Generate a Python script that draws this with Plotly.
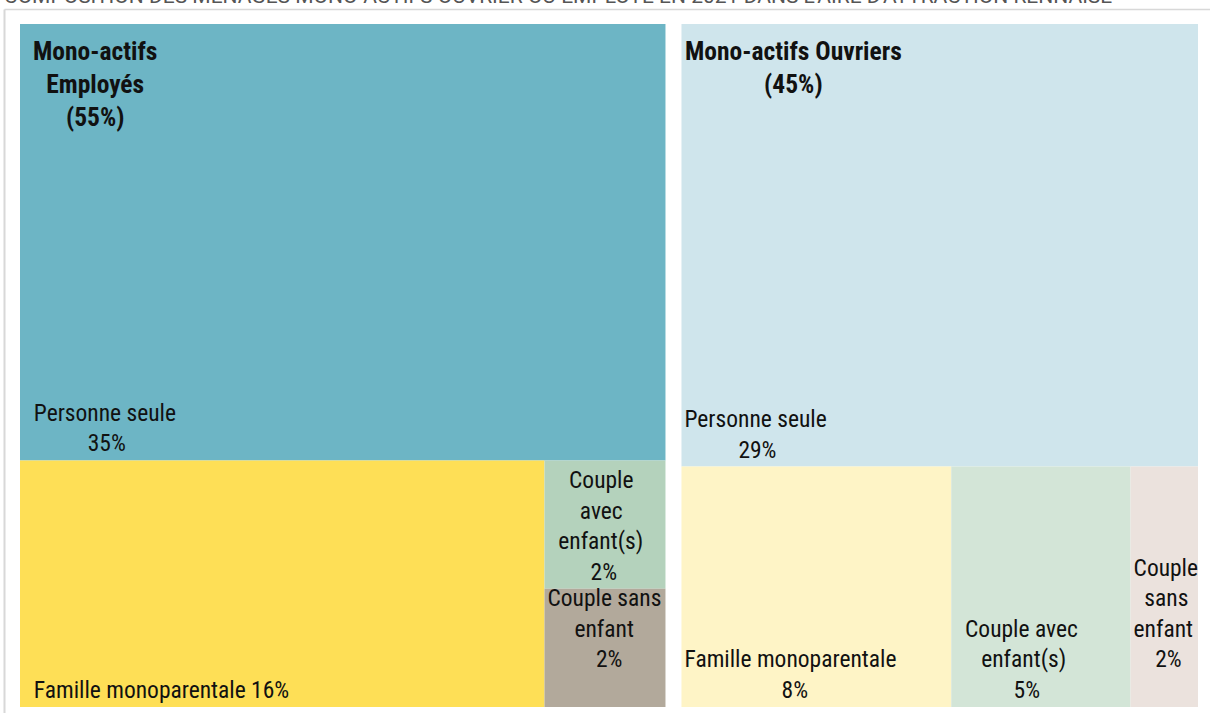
import plotly.graph_objects as go

# ---- data ----
group_ids = ["E", "O"]
group_labels = ["Mono-actifs Employés", "Mono-actifs Ouvriers"]
group_titles = ["Mono-actifs<br>Employés", "Mono-actifs Ouvriers"]

cat_labels = ["Personne seule", "Famille monoparentale", "Couple avec enfant(s)", "Couple sans enfant"]
employes_values = [35.4, 16.25, 1.95, 1.8]
ouvriers_values = [28.9, 8.2, 5.45, 2.05]

employes_wrapped = ["Personne seule", "Famille monoparentale", "Couple<br>avec<br>enfant(s)", "Couple sans<br>enfant"]
ouvriers_wrapped = ["Personne seule", "Famille monoparentale", "Couple avec<br>enfant(s)", "Couple<br>sans<br>enfant"]
employes_sep = ["<br>", " ", "<br>", "<br>"]
ouvriers_sep = ["<br>", "<br>", "<br>", "<br>"]

employes_colors = ["#6db5c5", "#fedf56", "#b4d2bc", "#b2a99b"]
ouvriers_colors = ["#cfe5ec", "#fef4c6", "#d3e5d7", "#ebe2dd"]

title_text = "COMPOSITION DES MÉNAGES MONO-ACTIFS OUVRIER OU EMPLOYÉ EN 2021 DANS L'AIRE D'ATTRACTION RENNAISE"

# ---- text styling helpers ----
FONT = "Roboto Condensed, Liberation Sans Narrow, Arial Narrow, DejaVu Sans Condensed, Roboto, sans-serif"
LEAF_SIZE = 23.5
NBSP = "\u00a0"
SPACE_EM = 0.22
CHAR_EM = {" ": 0.22, "(": 0.28, ")": 0.28, "i": 0.22, "l": 0.22, "j": 0.22,
           "f": 0.3, "t": 0.3, "r": 0.3, "m": 0.78, "w": 0.66, "%": 0.62}


def est_em(s):
    w = 0.0
    for ch in s:
        if ch in CHAR_EM:
            w += CHAR_EM[ch]
        elif ch.isdigit():
            w += 0.5
        elif ch.isupper():
            w += 0.58
        else:
            w += 0.48
    return w


def center_lines(text, lead):
    lines = text.split("<br>")
    widths = [est_em(l) for l in lines]
    mw = max(widths)
    out = []
    for l, w in zip(lines, widths):
        n = int(round((mw - w) / 2 / SPACE_EM))
        out.append(NBSP * (lead + n) + l)
    return "<br>".join(out)


# per-box label tweaks (style only)
label_lead = {"E-Couple sans enfant": 0, "O-Couple sans enfant": 0,
              "O-Personne seule": 0, "O-Famille monoparentale": 0}
label_raise = {"E-Couple sans enfant": 1, "O-Couple sans enfant": 1}

# ---- build hierarchy ----
ids, labels, parents, values, colors, texts = [], [], [], [], [], []
group_values = [sum(employes_values), sum(ouvriers_values)]
for gid, glab, gval in zip(group_ids, group_labels, group_values):
    ids.append(gid); labels.append(glab); parents.append(""); values.append(gval)
    colors.append("#ffffff"); texts.append("")

for gid, vals, wraps, seps, cols in [("E", employes_values, employes_wrapped, employes_sep, employes_colors),
                                     ("O", ouvriers_values, ouvriers_wrapped, ouvriers_sep, ouvriers_colors)]:
    for lab, v, w, s, c in zip(cat_labels, vals, wraps, seps, cols):
        pid = gid + "-" + lab
        full = w + s + "%.0f%%" % v
        t = center_lines(full, label_lead.get(pid, 2))
        t += ("<br>" + NBSP) * label_raise.get(pid, 0)
        ids.append(pid); labels.append(lab); parents.append(gid); values.append(v)
        colors.append(c); texts.append(t)

W, H = 1210, 713
ML, MR, MT, MB = 0, 0, 24, 6
PAD_L, PAD_R = 10, 6

fig = go.Figure(go.Treemap(
    ids=ids, labels=labels, parents=parents, values=values,
    branchvalues="total",
    text=texts, texttemplate="%{text}",
    textposition="bottom left",
    textfont=dict(family=FONT, size=LEAF_SIZE, color="#111111"),
    marker=dict(colors=colors, line=dict(width=0), pad=dict(t=0, l=PAD_L, r=PAD_R, b=0)),
    tiling=dict(packing="squarify", squarifyratio=1, pad=0),
    pathbar=dict(visible=False),
    sort=True,
    hoverinfo="skip",
    root=dict(color="#ffffff"),
))

plot_w = W - ML - MR
plot_h = H - MT - MB
inner_w = plot_w - PAD_L - PAD_R
total = sum(group_values)
x_starts = []
acc = 0.0
for gv in group_values:
    x_starts.append(PAD_L + acc / total * inner_w + PAD_L)
    acc += gv

title_offsets = [11, 2]
annotations = []
for xs, off, gt, gv in zip(x_starts, title_offsets, group_titles, group_values):
    annotations.append(dict(
        x=(xs + off) / plot_w, y=1 - 10 / plot_h, xref="paper", yref="paper",
        xanchor="left", yanchor="top", align="center", showarrow=False,
        text="<b>%s<br>(%.0f%%)</b>" % (gt, gv),
        font=dict(family=FONT, size=25.5, color="#111111"),
    ))
annotations.append(dict(
    x=2 / plot_w, y=1 + (MT - 10) / plot_h, xref="paper", yref="paper",
    xanchor="left", yanchor="bottom", showarrow=False, text=title_text,
    font=dict(family="Roboto, sans-serif", size=21, color="#555555"),
))

fig.update_layout(
    width=W, height=H,
    margin=dict(l=ML, r=MR, t=MT, b=MB),
    paper_bgcolor="#ffffff",
    uniformtext=dict(minsize=LEAF_SIZE, mode="show"),
    annotations=annotations,
    shapes=[
        dict(type="line", xref="paper", yref="paper", x0=4.5 / plot_w, x1=1.0,
             y0=1 + (MT - 9.5) / plot_h, y1=1 + (MT - 9.5) / plot_h, line=dict(color="#d8d8d8", width=1.5)),
        dict(type="line", xref="paper", yref="paper", x0=4.5 / plot_w, x1=4.5 / plot_w,
             y0=1 + (MT - 9.5) / plot_h, y1=-MB / plot_h, line=dict(color="#d8d8d8", width=2)),
    ],
)

fig.write_html("out.html", config={"displayModeBar": False},
               post_script="document.body.style.margin='0';document.body.style.overflow='hidden';")
